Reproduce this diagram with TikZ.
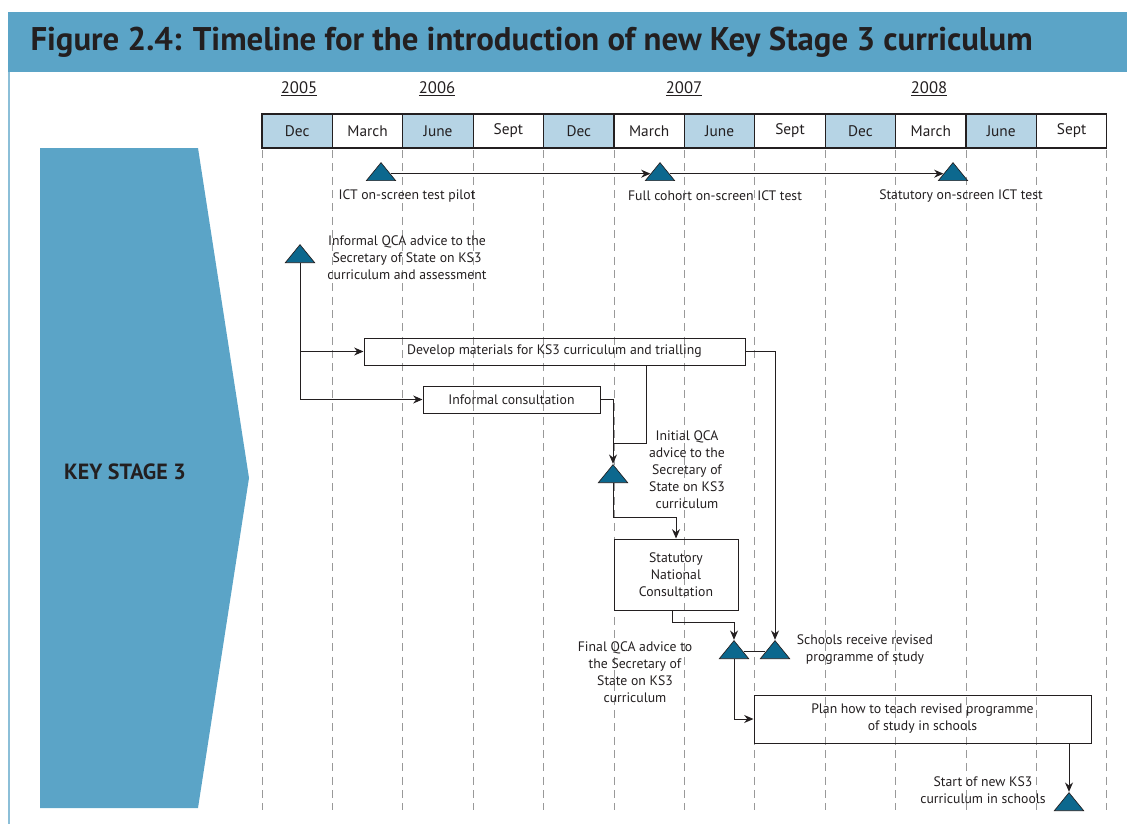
\documentclass[tikz,border=0pt]{standalone}
\usepackage{fontspec}
\setmainfont{PT Sans}
\usepackage{tikz}
\usetikzlibrary{shapes.geometric}
\usetikzlibrary{arrows.meta}
\definecolor{barblue}{RGB}{91,164,199}
\definecolor{cellblue}{RGB}{182,212,229}
\definecolor{tritone}{RGB}{12,104,142}
\definecolor{inkgrey}{RGB}{35,31,32}
\tikzset{every picture/.style={line width=0.75pt}}

\begin{document}
\begin{tikzpicture}[x=0.75pt,y=0.75pt,yscale=-1,xscale=1,
    text=inkgrey, font=\fontsize{10.3}{12.75}\selectfont,
    mon/.style={draw=inkgrey, line width=0.9pt, minimum width=52.8pt, minimum height=25.5pt, inner sep=0pt,
      font=\fontsize{11.5}{13}\selectfont},
    monb/.style={mon, fill=cellblue},
    vline/.style={draw=black!40, dash pattern=on 6pt off 4pt, line width=0.5pt},
    tri/.style={isosceles triangle, isosceles triangle stretches, shape border rotate=90,
      minimum width=22pt, minimum height=13.5pt, inner sep=0pt, fill=tritone, draw=inkgrey,
      line width=0.5pt, anchor=south},
    box/.style={draw=inkgrey, line width=0.75pt, inner sep=0pt, align=center},
    conn/.style={draw=inkgrey, line width=0.75pt, -{Stealth[length=7pt,width=6pt]}},
    link/.style={draw=inkgrey, line width=0.75pt},
    lbl/.style={align=center, inner sep=0pt},
    yr/.style={font=\fontsize{12.5}{14}\selectfont}]
      \useasboundingbox (0,0) rectangle (1127,824);
      % title bar and side arrow
      \fill[barblue] (8,12) rectangle (1127,72);
      \draw[barblue!70, line width=1pt] (9,72) -- (9,824);
      \node (title) [anchor=west, inner sep=0pt, font=\fontsize{24.6}{28}\selectfont\bfseries] at (30,42)
            {Figure 2.4: Timeline for the introduction of new Key Stage 3 curriculum};
      \fill[barblue] (40,148) -- (198,148) -- (249,478) -- (198,808) -- (40,808) -- cycle;
      \node (ks3) [font=\fontsize{16.5}{18}\selectfont\bfseries] at (125,472) {KEY STAGE 3};
      % years
      \node (y2005) [yr] at (299,89) {\underline{2005}};
      \node (y2006) [yr] at (437,89) {\underline{2006}};
      \node (y2007) [yr] at (684,89) {\underline{2007}};
      \node (y2008) [yr] at (929,89) {\underline{2008}};
      % dashed month lines
      \draw[vline] (262,150) -- (262,810);
      \draw[vline] (332.4,150) -- (332.4,810);
      \draw[vline] (402.8,150) -- (402.8,810);
      \draw[vline] (473.2,150) -- (473.2,810);
      \draw[vline] (543.6,150) -- (543.6,810);
      \draw[vline] (614,150) -- (614,810);
      \draw[vline] (684.4,150) -- (684.4,810);
      \draw[vline] (754.8,150) -- (754.8,810);
      \draw[vline] (825.2,150) -- (825.2,810);
      \draw[vline] (895.6,150) -- (895.6,810);
      \draw[vline] (966,150) -- (966,810);
      \draw[vline] (1036.4,150) -- (1036.4,810);
      \draw[vline] (1106.8,150) -- (1106.8,810);
      % month row
      \node (m1) [monb] at (297.2,131) {Dec};
      \node (m2) [mon] at (367.6,131) {March};
      \node (m3) [monb] at (438,131) {June};
      \node (m4) [mon] at (508.4,131) {Sept};
      \node (m5) [monb] at (578.8,131) {Dec};
      \node (m6) [mon] at (649.2,131) {March};
      \node (m7) [monb] at (719.6,131) {June};
      \node (m8) [mon] at (790,131) {Sept};
      \node (m9) [monb] at (860.4,131) {Dec};
      \node (m10) [mon] at (930.8,131) {March};
      \node (m11) [monb] at (1001.2,131) {June};
      \node (m12) [mon] at (1071.6,131) {Sept};
      % milestones
      \node (t1) [tri] at (381,181) {};
      \node (t2) [tri] at (660,181) {};
      \node (t3) [tri] at (953,181) {};
      \node (t4) [tri] at (300,263) {};
      \node (t5) [tri] at (613,483) {};
      \node (t6) [tri] at (734,659) {};
      \node (t7) [tri] at (775,659) {};
      \node (t8) [tri] at (1069,811) {};
      % activities
      \node (develop) [box, minimum width=285.75pt, minimum height=20.25pt] at (554.5,351.5)
            {Develop materials for KS3 curriculum and trialling};
      \node (infcons) [box, minimum width=132.75pt, minimum height=20.25pt] at (511.5,399.5)
            {Informal consultation};
      \node (statnat) [box, minimum width=93pt, minimum height=53.25pt] at (676,574.5)
            {Statutory\\National\\Consultation};
      \node (plan) [box, minimum width=252.75pt, minimum height=36pt] at (922.5,719)
            {Plan how to teach revised programme\\of study in schools};
      % labels
      \node (l1) [lbl] at (407,196) {ICT on-screen test pilot};
      \node (l2) [lbl] at (715,196) {Full cohort on-screen ICT test};
      \node (l3) [lbl] at (961,196) {Statutory on-screen ICT test};
      \node (l4) [lbl] at (407,258) {Informal QCA advice to the\\Secretary of State on KS3\\curriculum and assessment};
      \node (l5) [lbl] at (687,470) {Initial QCA\\advice to the\\Secretary of\\State on KS3\\curriculum};
      \node (l6) [lbl] at (865,650) {Schools receive revised\\programme of study};
      \node (l7) [lbl] at (635,672) {Final QCA advice to\\the Secretary of\\State on KS3\\curriculum};
      \node (l8) [lbl] at (983,790) {Start of new KS3\\curriculum in schools};
      % connectors
      \draw[conn] (t1.east) -- (t2.west);
      \draw[conn] (t2.east) -- (t3.west);
      \draw[conn] (t4.south) |- (develop.west);
      \draw[conn] (t4.south) |- (infcons.west);
      \coordinate (join1) at (613,443);
      \draw[link] ([xshift=69pt]develop.south) |- (join1);
      \draw[conn] (infcons.east) -| (t5.north);
      \draw[conn] (t5.south) -- ++(0,34) -| (statnat.north);
      \draw[conn] ([xshift=-3pt]statnat.south) -- ++(0,12) -| (t6.north);
      \draw[conn] (develop.east) -| (t7.north);
      \draw[link] (t6.east) -- (t7.west);
      \draw[conn] (t6.south) |- (plan.west);
      \draw[conn] (plan.south -| t8.north) -- (t8.north);
\end{tikzpicture}
\end{document}
